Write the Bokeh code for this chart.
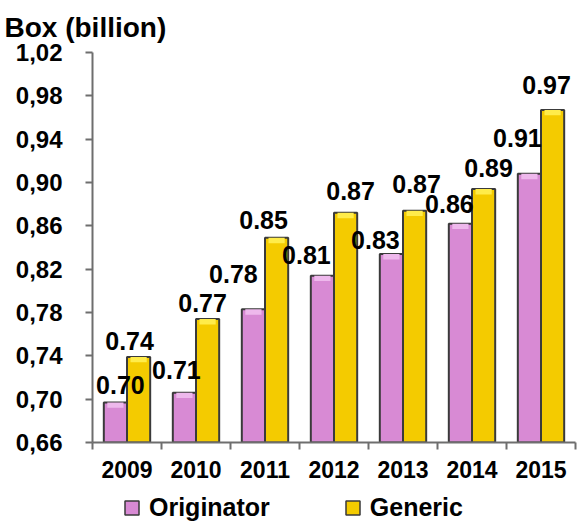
from bokeh.plotting import figure
from bokeh.layouts import column
from bokeh.models import Range1d, FixedTicker, Legend, LegendItem, ColumnDataSource
from bokeh.core.properties import value
from bokeh.embed import file_html
from bokeh.resources import INLINE

years = ["2009", "2010", "2011", "2012", "2013", "2014", "2015"]
originator = [0.697, 0.706, 0.783, 0.814, 0.834, 0.862, 0.908]
generic = [0.739, 0.774, 0.849, 0.872, 0.874, 0.894, 0.967]
y_ticks = [0.66, 0.70, 0.74, 0.78, 0.82, 0.86, 0.90, 0.94, 0.98, 1.02]
y_tick_labels = ["0,66", "0,70", "0,74", "0,78", "0,82", "0,86", "0,90", "0,94", "0,98", "1,02"]

# label nudges (pixels), as placed in the original
or_dx = [5, -8, -20, -16, -16, -11, -12]
or_dy = [17, 23, 35, 21, 14, 20, 36]
ge_dx = [-9, -5, -13, 5, 2, 5, -6]
ge_dy = [16, 16, 18, 22, 27, 21, 25]

FONT = "Liberation Sans"
PINK = "#D88AD4"
YELLOW = "#F4CB00"
PINK_HI = "#EEB8EC"
YELLOW_HI = "#FFEC4A"
OUTLINE = "#3A3A3A"
AXIS = "#6E6E6E"

pos = list(range(1, len(years) + 1))
half = 0.168
bw = 0.336
x_or = [p_ - half for p_ in pos]
x_ge = [p_ + half for p_ in pos]

src_or = ColumnDataSource(dict(x=x_or, top=originator, lab=[f"{v:.2f}" for v in originator],
                               hi=[v - 0.005 for v in originator],
                               dx=or_dx, dy=[-d for d in or_dy]))
src_ge = ColumnDataSource(dict(x=x_ge, top=generic, lab=[f"{v:.2f}" for v in generic],
                               hi=[v - 0.005 for v in generic],
                               dx=ge_dx, dy=[-d for d in ge_dy]))

p = figure(width=577, height=490, output_backend="svg", toolbar_location=None,
           x_range=Range1d(0.5, len(years) + 0.5), y_range=Range1d(0.66, 1.02),
           min_border_left=92, min_border_right=2, min_border_top=52, min_border_bottom=48)
p.outline_line_color = None
p.grid.visible = False
p.background_fill_color = "white"

r_or = p.vbar(x="x", top="top", bottom=0.66, width=bw, source=src_or,
              fill_color=PINK, line_color=OUTLINE, line_width=2)
r_ge = p.vbar(x="x", top="top", bottom=0.66, width=bw, source=src_ge,
              fill_color=YELLOW, line_color=OUTLINE, line_width=2)
p.vbar(x="x", top="top", bottom="hi", width=bw * 0.7, source=src_or,
       fill_color=PINK_HI, line_color=None)
p.vbar(x="x", top="top", bottom="hi", width=bw * 0.7, source=src_ge,
       fill_color=YELLOW_HI, line_color=None)

for src in (src_or, src_ge):
    p.text(x="x", y="top", text="lab", source=src, x_offset="dx", y_offset="dy",
           text_align="center", text_baseline="middle",
           text_font=value(FONT), text_font_style="bold", text_font_size="25px",
           text_color="black")

# axes
p.yaxis.ticker = FixedTicker(ticks=y_ticks)
p.yaxis.major_label_overrides = {t: l for t, l in zip(y_ticks, y_tick_labels)}
p.xaxis.ticker = FixedTicker(ticks=pos, minor_ticks=[p_ - 0.5 for p_ in pos] + [len(years) + 0.5])
p.xaxis.major_label_overrides = {p_: y for p_, y in zip(pos, years)}
p.xaxis.major_tick_in = 0
p.xaxis.major_tick_out = 0
p.xaxis.minor_tick_in = 0
p.xaxis.minor_tick_out = 7
p.yaxis.major_tick_in = 0
p.yaxis.major_tick_out = 7
for ax in (p.xaxis, p.yaxis):
    ax.axis_line_color = AXIS
    ax.axis_line_width = 2
    ax.major_tick_line_color = AXIS
    ax.major_tick_line_width = 2
    ax.minor_tick_line_color = AXIS
    ax.minor_tick_line_width = 2
    ax.major_label_text_font = FONT
    ax.major_label_text_font_style = "bold"
    ax.major_label_text_color = "black"
p.yaxis.major_label_text_font_size = "24px"
p.yaxis.major_label_standoff = 23
p.xaxis.major_label_text_font_size = "23px"
p.xaxis.major_label_standoff = 11
p.yaxis.minor_tick_line_color = None

# title
p.title.text = "Box (billion)"
p.title.text_font = FONT
p.title.text_font_style = "bold"
p.title.text_font_size = "28px"
p.title.align = "left"
p.title.offset = -88
p.title.standoff = 19
p.title.text_color = "black"

# legend strip below the chart
lg = figure(width=577, height=35, output_backend="svg", toolbar_location=None,
            x_range=Range1d(0, 577), y_range=Range1d(0, 35),
            min_border=0, x_axis_type=None, y_axis_type=None)
lg.outline_line_color = None
lg.grid.visible = False
dummy = dict(x=[-100], y=[-100])
d_or = lg.scatter(x="x", y="y", marker="square", size=14, source=ColumnDataSource(dummy),
                  fill_color=PINK, line_color=OUTLINE, line_width=1.5)
d_ge = lg.scatter(x="x", y="y", marker="square", size=14, source=ColumnDataSource(dummy),
                  fill_color=YELLOW, line_color=OUTLINE, line_width=1.5)
legend = Legend(items=[LegendItem(label="Originator", renderers=[d_or]),
                       LegendItem(label="Generic", renderers=[d_ge])],
                orientation="horizontal", location=(22, 0), spacing=65,
                glyph_width=35, glyph_height=35, label_standoff=-6,
                padding=0, margin=0, border_line_alpha=0, background_fill_alpha=0,
                label_text_font=FONT, label_text_font_style="bold",
                label_text_font_size="25px", label_text_color="black")
lg.add_layout(legend)

open("out.html", "w").write(file_html(column(p, lg, spacing=0), INLINE))
